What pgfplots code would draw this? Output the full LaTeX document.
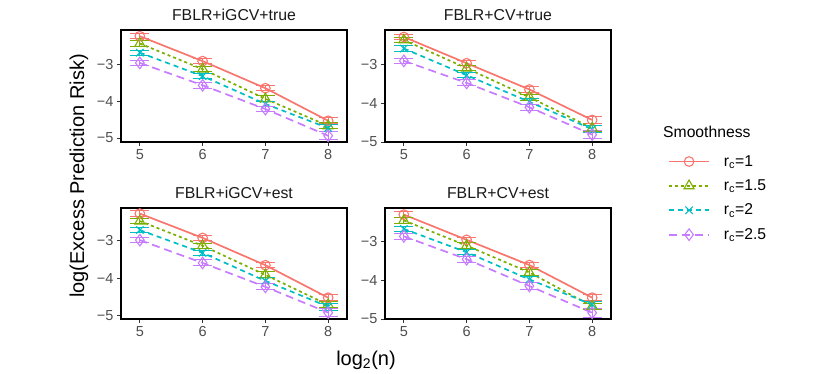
\documentclass[border=0pt]{standalone}
\usepackage{fontspec}
\setmainfont{Liberation Sans}
\usepackage{pgfplots}
\pgfplotsset{compat=1.18}

\definecolor{rcone}{HTML}{F8766D}
\definecolor{rctwo}{HTML}{7CAE00}
\definecolor{rcthree}{HTML}{00BFC4}
\definecolor{rcfour}{HTML}{C77CFF}
\definecolor{tickgray}{HTML}{4D4D4D}

\pgfplotsset{
  panel/.style={
    scale only axis, width=226pt, height=112pt,
    xmin=4.7, xmax=8.3, xtick={5,6,7,8}, xticklabels={5,6,7,8},
    ytick={-5,-4,-3}, yticklabels={−5,−4,−3},
    xtick pos=bottom, ytick pos=left, tick align=outside,
    major tick length=4pt,
    tick style={color=black!80, line width=0.9pt},
    axis line style={line width=1.6pt, black},
    ticklabel style={font=\fontsize{14.5}{17}\selectfont, text=tickgray},
    title style={font=\fontsize{15.8}{18}\selectfont, text=black!90},
    clip=false,
  },
  eb/.style={
    /pgfplots/error bars/y dir=both,
    /pgfplots/error bars/y explicit,
    /pgfplots/error bars/error bar style={line width=1pt, solid},
    /pgfplots/error bars/error mark options={rotate=90, mark size=9.5pt, line width=1pt, solid},
  },
  sone/.style={rcone, line width=1.7pt, solid, mark=o, mark size=4.8pt, mark options={solid, line width=1.1pt}, eb},
  stwo/.style={rctwo, line width=1.7pt, dash pattern=on 3pt off 3pt, mark=triangle, mark size=5.8pt, mark options={solid, line width=1.1pt}, eb},
  sthree/.style={rcthree, line width=1.7pt, dash pattern=on 5pt off 4pt, mark=x, mark size=5.2pt, mark options={solid, line width=1.1pt}, eb},
  sfour/.style={rcfour, line width=1.7pt, dash pattern=on 8pt off 5pt, mark=diamond, mark size=5.8pt, mark options={solid, line width=1.1pt}, eb},
}

\begin{document}
\begin{tikzpicture}
\path[use as bounding box] (0pt,0pt) rectangle (830pt,374pt);

% top left
\begin{axis}[panel, at={(121pt,232pt)}, anchor=south west,
  ymin=-5.11, ymax=-2.05, title={FBLR+iGCV+true}]
\addplot[sone] coordinates {(5,-2.22) +- (0,0.07) (6,-2.90) +- (0,0.07) (7,-3.64) +- (0,0.07) (8,-4.53) +- (0,0.08)};
\addplot[stwo] coordinates {(5,-2.42) +- (0,0.07) (6,-3.12) +- (0,0.07) (7,-3.93) +- (0,0.08) (8,-4.67) +- (0,0.08)};
\addplot[sthree] coordinates {(5,-2.67) +- (0,0.07) (6,-3.31) +- (0,0.07) (7,-4.07) +- (0,0.08) (8,-4.73) +- (0,0.09)};
\addplot[sfour] coordinates {(5,-2.95) +- (0,0.07) (6,-3.56) +- (0,0.08) (7,-4.21) +- (0,0.08) (8,-4.94) +- (0,0.11)};
\end{axis}

% top right
\begin{axis}[panel, at={(385pt,232pt)}, anchor=south west,
  ymin=-5.0, ymax=-2.10, title={FBLR+CV+true},
  legend image code/.code={\draw[mark repeat=2,mark phase=2,#1,line width=1.8pt] plot coordinates {(0pt,0pt) (20pt,0pt) (40pt,0pt)};},
  legend style={at={(1.252,-0.10)}, anchor=north west, draw=none, fill=none,
    font=\fontsize{15.7}{18}\selectfont, row sep=8pt, inner sep=0pt,
    /tikz/every odd column/.append style={column sep=12pt}},
  legend cell align=left]
\addplot[sone] coordinates {(5,-2.28) +- (0,0.07) (6,-2.96) +- (0,0.07) (7,-3.64) +- (0,0.07) (8,-4.43) +- (0,0.08)};
\addlegendentry{r\textsubscript{c}=1}
\addplot[stwo] coordinates {(5,-2.36) +- (0,0.07) (6,-3.09) +- (0,0.07) (7,-3.84) +- (0,0.08) (8,-4.64) +- (0,0.08)};
\addlegendentry{r\textsubscript{c}=1.5}
\addplot[sthree] coordinates {(5,-2.58) +- (0,0.07) (6,-3.27) +- (0,0.07) (7,-3.96) +- (0,0.08) (8,-4.67) +- (0,0.09)};
\addlegendentry{r\textsubscript{c}=2}
\addplot[sfour] coordinates {(5,-2.90) +- (0,0.07) (6,-3.47) +- (0,0.08) (7,-4.10) +- (0,0.08) (8,-4.81) +- (0,0.11)};
\addlegendentry{r\textsubscript{c}=2.5}
\end{axis}

% bottom left
\begin{axis}[panel, at={(121pt,55pt)}, anchor=south west, height=111pt,
  ymin=-5.09, ymax=-2.12, title={FBLR+iGCV+est}]
\addplot[sone] coordinates {(5,-2.27) +- (0,0.07) (6,-2.92) +- (0,0.07) (7,-3.65) +- (0,0.07) (8,-4.52) +- (0,0.08)};
\addplot[stwo] coordinates {(5,-2.47) +- (0,0.07) (6,-3.13) +- (0,0.07) (7,-3.91) +- (0,0.08) (8,-4.71) +- (0,0.08)};
\addplot[sthree] coordinates {(5,-2.71) +- (0,0.07) (6,-3.32) +- (0,0.07) (7,-4.07) +- (0,0.08) (8,-4.76) +- (0,0.09)};
\addplot[sfour] coordinates {(5,-2.98) +- (0,0.07) (6,-3.59) +- (0,0.08) (7,-4.23) +- (0,0.08) (8,-4.92) +- (0,0.11)};
\end{axis}

% bottom right
\begin{axis}[panel, at={(385pt,55pt)}, anchor=south west, height=111pt,
  ymin=-5.0, ymax=-2.14, title={FBLR+CV+est}]
\addplot[sone] coordinates {(5,-2.31) +- (0,0.07) (6,-2.96) +- (0,0.07) (7,-3.61) +- (0,0.07) (8,-4.45) +- (0,0.08)};
\addplot[stwo] coordinates {(5,-2.46) +- (0,0.07) (6,-3.11) +- (0,0.07) (7,-3.80) +- (0,0.08) (8,-4.67) +- (0,0.08)};
\addplot[sthree] coordinates {(5,-2.68) +- (0,0.07) (6,-3.28) +- (0,0.07) (7,-3.98) +- (0,0.08) (8,-4.63) +- (0,0.09)};
\addplot[sfour] coordinates {(5,-2.87) +- (0,0.07) (6,-3.46) +- (0,0.08) (7,-4.15) +- (0,0.08) (8,-4.84) +- (0,0.11)};
\end{axis}

\node[rotate=90, font=\fontsize{20}{24}\selectfont] at (79pt,198pt) {log(Excess Prediction Risk)};
\node[font=\fontsize{20}{24}\selectfont] at (366pt,14pt) {log\textsubscript{2}(n)};
\node[anchor=west, font=\fontsize{15.7}{18}\selectfont, inner sep=0pt] at (663pt,242pt) {Smoothness};
\end{tikzpicture}
\end{document}
